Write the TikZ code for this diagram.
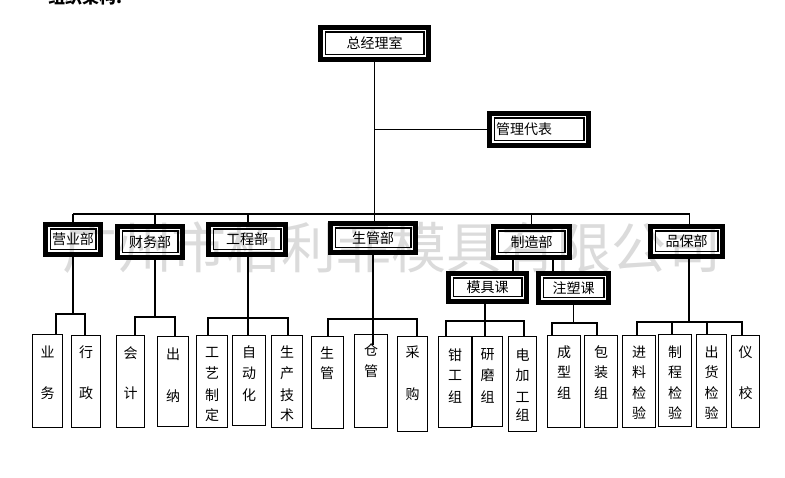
\documentclass[tikz,border=0pt]{standalone}
\usepackage{fontspec}
\setmainfont{Noto Sans CJK SC}
\usetikzlibrary{calc}
\tikzset{
  dept/.style={draw, line width=5pt, inner sep=0pt, font=\fontsize{14}{16}\selectfont,
    path picture={\draw[line width=1.2pt] ([shift={(4.6pt,4.6pt)}]path picture bounding box.south west) rectangle ([shift={(-4.6pt,-4.6pt)}]path picture bounding box.north east);}},
  leaf/.style={draw, line width=1.4pt, inner sep=0pt, anchor=north west},
  vt/.style={inner sep=0pt, font=\fontsize{14}{16}\selectfont},
  conn/.style={line width=1.3pt},
}
\newcommand\deptbox[6]{\node[dept, minimum width={#4-#2-5}, minimum height={#5-#3-5}] (#1) at ({(#2+#4)/2},{(#3+#5)/2}) {#6};}
\newcommand\leafbox[5]{\node[leaf, minimum width={#4-#2-1.4}, minimum height={#5-#3-1.4}] (#1) at (#2,#3) {};}
\newcommand\vtxt[3]{\foreach \yy/\cc [count=\i] in {#3} {\node[vt] (#1-\i) at (#2,\yy) {\cc};}}
\begin{document}
\begin{tikzpicture}[x=1pt,y=-1pt]
\useasboundingbox (0,0) rectangle (785,478);
\clip (0,0) rectangle (785,478);
\fill[white] (0,0) rectangle (785,478);
% watermark
\node[font=\fontsize{55}{60}\selectfont, text=black!14, inner sep=0pt] (wm) at (392,248) {广州市栢利菲模具有限公司};
% clipped title
\node[font=\fontsize{17}{20}\selectfont\bfseries, anchor=south west, inner sep=0pt] (title) at (48,5.5) {组织架构:};
% top boxes
\deptbox{gm}{318}{25}{431}{62}{总经理室}
\deptbox{rep}{487}{111}{591}{148}{管理代表\hspace*{30pt}}
\deptbox{yy}{43}{222}{103}{257}{营业部}
\deptbox{cw}{115}{224}{185}{260}{财务部}
\deptbox{gc}{206}{222}{288}{257}{工程部}
\deptbox{sg}{328}{221}{418}{255}{生管部}
\deptbox{zz}{491}{224}{572}{260}{制造部}
\deptbox{pb}{648}{224}{725}{259}{品保部}
\deptbox{mj}{446}{271}{529}{304}{模具课}
\deptbox{zs}{536}{271}{611}{305}{注塑课}
% leaf boxes
\leafbox{yw}{32}{334}{63}{428}
\leafbox{xz}{71}{335}{101}{428}
\leafbox{kj}{116}{335}{145}{428}
\leafbox{cn}{157}{336}{189}{427}
\leafbox{gy}{196}{335}{228}{428}
\leafbox{zd}{232}{335}{266}{426}
\leafbox{sj}{271}{335}{303}{428}
\leafbox{sgl}{311}{336}{344}{429}
\leafbox{cg}{354}{334}{388}{428}
\leafbox{cgo}{397}{336}{428}{432}
\leafbox{qg}{438}{336}{472}{428}
\leafbox{ym}{472}{336}{503}{427}
\leafbox{dj}{508}{336}{537}{432}
\leafbox{cx}{547}{335}{581}{428}
\leafbox{bz}{584}{335}{618}{428}
\leafbox{jl}{622}{335}{656}{428}
\leafbox{zc}{658}{334}{692}{427}
\leafbox{ch}{696}{334}{727}{428}
\leafbox{yx}{731}{335}{760}{428}
% leaf texts
\vtxt{tyw}{47.5}{352/业,393/务}
\vtxt{txz}{86}{352/行,393/政}
\vtxt{tkj}{130.5}{353/会,393/计}
\vtxt{tcn}{173}{354/出,396/纳}
\vtxt{tgy}{212}{352/工,373/艺,395/制,415/定}
\vtxt{tzd}{249}{352/自,373/动,395/化}
\vtxt{tsj}{287}{352/生,373/产,395/技,415/术}
\vtxt{tsgl}{327}{353/生,373/管}
\vtxt{tcg}{371}{350/仓,371/管}
\vtxt{tcgo}{412.5}{352/采,394/购}
\vtxt{tqg}{455}{355/钳,375/工,397/组}
\vtxt{tym}{487.5}{355/研,375/磨,397/组}
\vtxt{tdj}{522.5}{355/电,375/加,397/工,415/组}
\vtxt{tcx}{564}{352/成,372/型,393/组}
\vtxt{tbz}{601}{352/包,372/装,393/组}
\vtxt{tjl}{639}{352/进,372/料,393/检,413/验}
\vtxt{tzc}{675}{352/制,372/程,393/检,413/验}
\vtxt{tch}{711.5}{352/出,372/货,393/检,413/验}
\vtxt{tyx}{745.5}{352/仪,393/校}
% upper connectors
\coordinate (busL) at (73,214);
\coordinate (busR) at (689.5,214);
\draw[conn] (gm.south) -- (gm.south |- sg.north);
\draw[conn] (rep.west) -- (rep.west -| gm.south);
\draw[conn] (busL) -- (busR);
\draw[conn] (yy.north) -- (yy.north |- busL);
\draw[conn] ([xshift=5pt]cw.north) -- ([xshift=5pt]cw.north |- busL);
\draw[conn] ([xshift=1pt]gc.north) -- ([xshift=1pt]gc.north |- busL);
\draw[conn] (zz.north) -- (zz.north |- busL);
\draw[conn] ([xshift=3pt]pb.north) -- ([xshift=3pt]pb.north |- busR);
\draw[conn] ([xshift=-18.5pt]zz.south) -- ([xshift=-18.5pt]zz.south |- mj.north);
\draw[conn] ([xshift=21.5pt]zz.south) -- ([xshift=21.5pt]zz.south |- zs.north);
% group 1
\coordinate (j1) at (72,314);
\draw[conn] (yy.south) -- (yy.south |- j1);
\draw[conn] ([xshift=8.5pt]yw.north) |- ([xshift=-1pt]xz.north |- j1) -- ([xshift=-1pt]xz.north);
% group 2
\coordinate (j2) at (155,317);
\draw[conn] ([xshift=5pt]cw.south) -- ([xshift=5pt]cw.south |- j2);
\draw[conn] ([xshift=4.5pt]kj.north) |- ([xshift=2pt]cn.north |- j2) -- ([xshift=2pt]cn.north);
% group 3
\coordinate (j3) at (248,318);
\draw[conn] ([xshift=1pt]gc.south) -- ([xshift=1pt]gc.south |- j3);
\draw[conn] ([xshift=-4pt]gy.north) |- ([xshift=1pt]sj.north |- j3) -- ([xshift=1pt]sj.north);
\draw[conn] ([xshift=-1pt]zd.north) -- ([xshift=-1pt]zd.north |- j3);
% group 4
\coordinate (j4) at (373,319);
\draw[conn] (sg.south) -- (sg.south |- j4);
\draw[conn] ([xshift=0.5pt]sgl.north) |- ([xshift=4.5pt]cgo.north |- j4) -- ([xshift=4.5pt]cgo.north);
\draw[conn] ([xshift=2pt]cg.north |- j4) -- ([xshift=2pt,yshift=-11pt]cg.north);
% group 5
\coordinate (j5) at (485,321);
\draw[conn] ([xshift=-2.5pt]mj.south) -- ([xshift=-2.5pt]mj.south |- j5);
\draw[conn] ([xshift=-9pt]qg.north) |- ([xshift=1.5pt]dj.north |- j5) -- ([xshift=1.5pt]dj.north);
\draw[conn] ([xshift=-2.5pt]ym.north) -- ([xshift=-2.5pt]ym.north |- j5);
% group 6
\coordinate (j6) at (573,323);
\draw[conn] (zs.south) -- (zs.south |- j6);
\draw[conn] ([xshift=-12pt]cx.north) |- ([xshift=-4pt]bz.north |- j6) -- ([xshift=-4pt]bz.north);
% group 7
\coordinate (j7) at (689,322);
\draw[conn] ([xshift=2.5pt]pb.south) -- ([xshift=2.5pt]pb.south |- j7);
\draw[conn] ([xshift=-2pt]jl.north) |- ([xshift=-3.5pt]yx.north |- j7) -- ([xshift=-3.5pt]yx.north);
\draw[conn] ([xshift=-3pt]zc.north) -- ([xshift=-3pt]zc.north |- j7);
\draw[conn] ([xshift=-4.5pt]ch.north) -- ([xshift=-4.5pt]ch.north |- j7);
\end{tikzpicture}
\end{document}
